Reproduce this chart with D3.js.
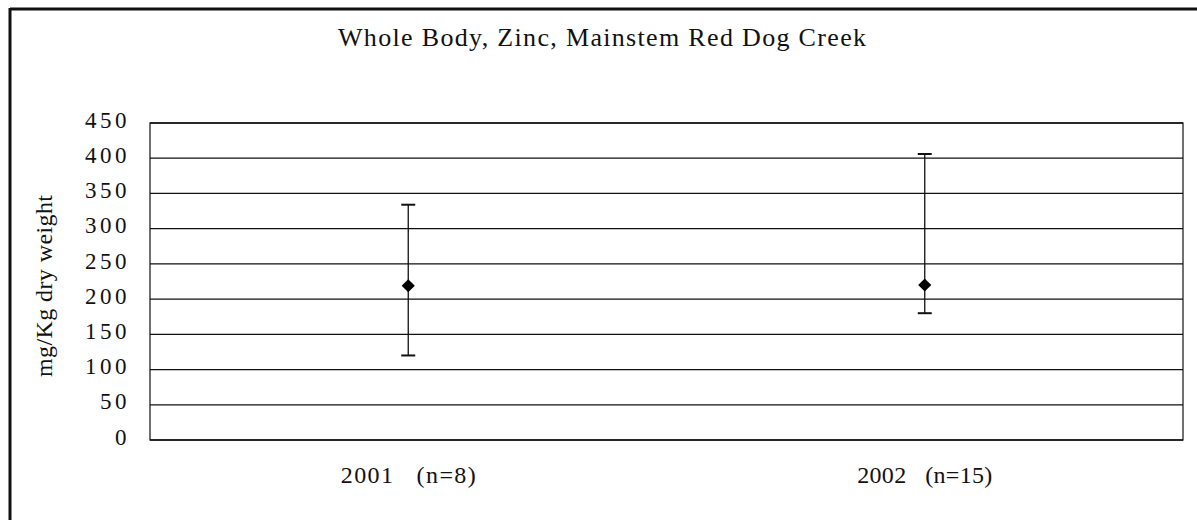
<!DOCTYPE html>
<html>
<head>
<meta charset="utf-8">
<script src="https://cdn.jsdelivr.net/npm/d3@7"></script>
<style>
  body { margin: 0; background: #fff; }
  svg text { font-family: "Liberation Serif", "DejaVu Serif", serif !important; fill: #111; }
</style>
</head>
<body>
<div id="chart"></div>
<script>
// chart data
var categories = ["2001   (n=8)", "2002   (n=15)"];
var means = [219, 220];
var highs = [334, 406];
var lows = [120, 180];
var yTicks = [0, 50, 100, 150, 200, 250, 300, 350, 400, 450];

var title = "Whole Body, Zinc, Mainstem Red Dog Creek";
var yLabel = "mg/Kg dry weight";

var W = 1197, H = 520;
var margin = {top: 123, right: 14, bottom: 80, left: 150};

var svg = d3.select("#chart").append("svg")
    .attr("width", W)
    .attr("height", H);

// outer frame (only top and left edges show in the scan)
svg.append("line").attr("x1", 10).attr("x2", W).attr("y1", 9).attr("y2", 9)
    .attr("stroke", "#111").attr("stroke-width", 3);
svg.append("line").attr("x1", 10).attr("x2", 10).attr("y1", 8).attr("y2", H)
    .attr("stroke", "#111").attr("stroke-width", 3);

var width = W - margin.left - margin.right;
var height = H - margin.top - margin.bottom;

var g = svg.append("g")
    .attr("transform", "translate(" + margin.left + "," + margin.top + ")");

var x = d3.scaleBand().domain(categories).range([0, width]);
var y = d3.scaleLinear().domain([0, 450]).range([height, 0]);

// gridlines
g.selectAll(".grid").data(yTicks).enter().append("line")
    .attr("class", "grid")
    .attr("x1", 0).attr("x2", width)
    .attr("y1", function(d) { return y(d); })
    .attr("y2", function(d) { return y(d); })
    .attr("stroke", "#111").attr("stroke-width", 1.3);

// plot border
g.append("rect")
    .attr("width", width).attr("height", height)
    .attr("fill", "none").attr("stroke", "#111").attr("stroke-width", 1.2);

// y axis
var yAxis = d3.axisLeft(y).tickValues(yTicks).tickSize(0).tickPadding(20);
g.append("g").call(yAxis)
    .attr("font-family", null)
    .call(function(a) { a.select(".domain").remove(); })
    .selectAll("text")
    .style("font-size", "23px")
    .style("letter-spacing", "3.5px")
    .attr("dy", "0.18em")
    .attr("fill", "#111");

// x axis labels
var xAxis = d3.axisBottom(x).tickSize(0).tickPadding(26);
g.append("g").attr("transform", "translate(0," + height + ")").call(xAxis)
    .attr("font-family", null)
    .call(function(a) { a.select(".domain").remove(); })
    .selectAll("text")
    .style("font-size", "24px")
    .style("white-space", "pre")
    .attr("textLength", 135)
    .attr("lengthAdjust", "spacing")
    .attr("fill", "#111");

// error bars
var bars = g.selectAll(".err").data(categories).enter().append("g").attr("class", "err")
    .attr("transform", function(d) { return "translate(" + (x(d) + x.bandwidth() / 2) + ",0)"; });

bars.append("line")
    .attr("y1", function(d, i) { return y(highs[i]); })
    .attr("y2", function(d, i) { return y(lows[i]); })
    .attr("stroke", "#111").attr("stroke-width", 1.3);
bars.append("line")
    .attr("x1", -7).attr("x2", 7)
    .attr("y1", function(d, i) { return y(highs[i]); })
    .attr("y2", function(d, i) { return y(highs[i]); })
    .attr("stroke", "#111").attr("stroke-width", 2);
bars.append("line")
    .attr("x1", -7).attr("x2", 7)
    .attr("y1", function(d, i) { return y(lows[i]); })
    .attr("y2", function(d, i) { return y(lows[i]); })
    .attr("stroke", "#111").attr("stroke-width", 2);
bars.append("path")
    .attr("d", d3.symbol().type(d3.symbolDiamond2).size(110))
    .attr("transform", function(d, i) { return "translate(0," + y(means[i]) + ")"; })
    .attr("fill", "#000");

// title
svg.append("text")
    .attr("x", 602).attr("y", 46)
    .attr("text-anchor", "middle")
    .style("font-size", "26px")
    .attr("textLength", 528)
    .attr("lengthAdjust", "spacing")
    .text(title);

// y label
svg.append("text")
    .attr("transform", "translate(52,286) rotate(-90)")
    .attr("text-anchor", "middle")
    .style("font-size", "24px")
    .attr("textLength", 182)
    .attr("lengthAdjust", "spacing")
    .text(yLabel);
</script>
</body>
</html>
